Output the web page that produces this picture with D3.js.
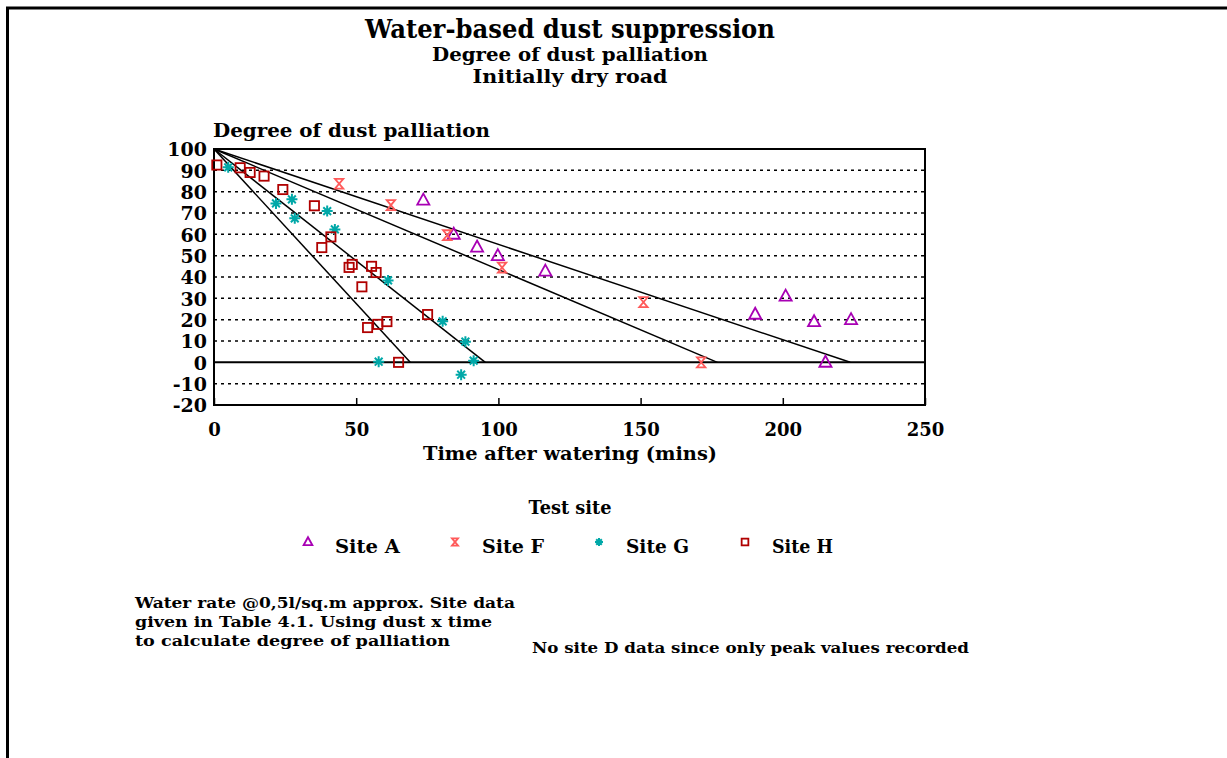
<!DOCTYPE html>
<html><head><meta charset="utf-8">
<script src="https://cdn.jsdelivr.net/npm/d3@7"></script>
<style>
html,body{margin:0;padding:0;background:#fff;}
svg{display:block;}
text{font-family:"DejaVu Serif",serif;font-weight:bold;fill:#000;}
</style></head>
<body>
<svg id="c" width="1227" height="758"></svg>
<script>
// ---- data ----
const siteA_x = [73.6, 84.3, 92.5, 99.8, 116.5, 190.3, 201, 211, 224, 215];
const siteA_y = [76, 60, 54, 50, 42.7, 22.5, 31, 19, 20, 0];
const siteF_x = [44, 62.2, 82, 101.3, 151, 171.3];
const siteF_y = [83.7, 73.7, 59.6, 44.4, 28.2, 0];
const siteG_x = [5, 21.8, 27.4, 28.4, 39.8, 42.5, 61.2, 57.9, 80.4, 88.4, 91.3, 86.9];
const siteG_y = [91.4, 74.5, 76.4, 67.5, 70.9, 62.3, 38.4, 0.3, 19.2, 9.7, 0.8, -5.8];
const siteH_x = [1, 9.2, 12.7, 17.6, 24.2, 35.3, 41.1, 37.9, 47.5, 48.6, 55.4, 57, 52, 60.8, 57.6, 54, 64.9, 75.1];
const siteH_y = [92.5, 91.2, 89, 87.3, 81, 73.4, 58.8, 53.8, 44.5, 45.9, 45, 42.1, 35.4, 19.1, 17.8, 16.3, 0, 22.4];
const trendEnds = [69, 95.4, 177, 223.7]; // x where each fitted line reaches 0 (all start at 0,100)
const xTicks = [0, 50, 100, 150, 200, 250];
const yTicks = [100, 90, 80, 70, 60, 50, 40, 30, 20, 10, 0, -10, -20];
const seriesNames = ["Site A", "Site F", "Site G", "Site H"];
const seriesColors = ["#a800b4", "#ff5a5a", "#00a8a8", "#b00000"];
const seriesShapes = ["triangle", "hourglass", "asterisk", "square"];

const svg = d3.select("#c");
// page border
svg.append("path").attr("d","M7.5,758 V8 H1227").attr("fill","none").attr("stroke","#000").attr("stroke-width",3);

const x = d3.scaleLinear().domain([0,250]).range([214,925]);
const y = d3.scaleLinear().domain([-20,100]).range([405,149]);

// gridlines
svg.append("g").selectAll("line").data(yTicks.filter(v=>v>-20 && v<100)).join("line")
  .attr("x1",x(0)).attr("x2",x(250)).attr("y1",d=>y(d)).attr("y2",d=>y(d))
  .attr("stroke","#000").attr("stroke-width",d=>d===0?2:1.5)
  .attr("stroke-dasharray",d=>d===0?null:"3,4");

// frame
svg.append("rect").attr("x",x(0)).attr("y",y(100)).attr("width",x(250)-x(0)).attr("height",y(-20)-y(100))
  .attr("fill","none").attr("stroke","#000").attr("stroke-width",2);

// axes
const yAxis = d3.axisLeft(y).tickValues(yTicks).tickSize(0).tickPadding(7).tickFormat(d=>d);
const gy = svg.append("g").attr("transform",`translate(${x(0)},0)`).call(yAxis);
gy.select(".domain").remove();
gy.selectAll("text").attr("font-size",19).attr("font-family","DejaVu Serif").attr("font-weight","bold").attr("dy","0.36em");

const xAxis = d3.axisBottom(x).tickValues(xTicks).tickSize(-7).tickPadding(18).tickFormat(d=>d);
const gx = svg.append("g").attr("transform",`translate(0,${y(-20)})`).call(xAxis);
gx.select(".domain").remove();
gx.selectAll("line").attr("stroke-width",1.5);
gx.selectAll("text").attr("font-size",18).attr("font-family","DejaVu Serif").attr("font-weight","bold");

// trend lines
svg.append("g").selectAll("line").data(trendEnds).join("line")
  .attr("x1",x(0)).attr("y1",y(100)).attr("x2",d=>x(d)).attr("y2",y(0))
  .attr("stroke","#000").attr("stroke-width",1.5);

// markers
function marker(g, shape, color, s){
  if(shape==="triangle"){
    g.append("path").attr("d",`M0,${-s*0.6} L${s*0.55},${s*0.4} L${-s*0.55},${s*0.4} Z`)
      .attr("fill","none").attr("stroke",color).attr("stroke-width",1.8);
  } else if(shape==="square"){
    g.append("rect").attr("x",-s*0.42).attr("y",-s*0.42).attr("width",s*0.84).attr("height",s*0.84)
      .attr("fill","none").attr("stroke",color).attr("stroke-width",1.8);
  } else if(shape==="hourglass"){
    g.append("path").attr("d",`M${-s*0.38},${-s*0.45} H${s*0.38} L${-s*0.38},${s*0.45} H${s*0.38} Z`)
      .attr("fill","none").attr("stroke",color).attr("stroke-width",1.8);
  } else {
    const r = s*0.5;
    let d="";
    for(let i=0;i<4;i++){const a=i*Math.PI/4; d+=`M${-r*Math.cos(a)},${-r*Math.sin(a)}L${r*Math.cos(a)},${r*Math.sin(a)}`;}
    g.append("path").attr("d",d).attr("stroke",color).attr("stroke-width",2);
  }
}
const allX=[siteA_x,siteF_x,siteG_x,siteH_x], allY=[siteA_y,siteF_y,siteG_y,siteH_y];
allX.forEach((xs,si)=>{
  xs.forEach((xv,i)=>{
    const g = svg.append("g").attr("transform",`translate(${x(xv)},${y(allY[si][i])})`);
    marker(g, seriesShapes[si], seriesColors[si], 11);
  });
});

// titles
function txt(t, xp, yp, size, anchor, weight, len){
  const e = svg.append("text").attr("x",xp).attr("y",yp).attr("font-size",size)
    .attr("text-anchor",anchor||"start").attr("font-weight",weight||"bold").text(t);
  if(len) e.attr("textLength",len).attr("lengthAdjust","spacingAndGlyphs");
  return e;
}
txt("Water-based dust suppression", 570, 38, 26, "middle", "normal", 410);
txt("Degree of dust palliation", 570, 61, 18, "middle", "bold", 276);
txt("Initially dry road", 570, 83, 18, "middle", "bold", 195);
txt("Degree of dust palliation", 213, 137, 18, "start", "bold", 277);
txt("Time after watering (mins)", 570, 460, 18, "middle", "bold", 294);

// legend
txt("Test site", 570, 514, 18, "middle", "bold", 83);
const legX = [308, 455, 599, 745];
const legTxtLen = [65, 62, 63, 61];
seriesNames.forEach((n,i)=>{
  const g = svg.append("g").attr("transform",`translate(${legX[i]},${542})`);
  marker(g, seriesShapes[i], seriesColors[i], 8);
  txt(n, legX[i]+27, 553, 18, "start", "bold", legTxtLen[i]);
});

// notes
txt("Water rate @0,5l/sq.m approx.  Site data", 135, 608, 15, "start", "bold", 380);
txt("given in Table 4.1.  Using dust x time", 135, 627, 15, "start", "bold", 357);
txt("to calculate degree of palliation", 135, 646, 15, "start", "bold", 315);
txt("No site D data since only peak values recorded", 532, 653, 15, "start", "bold", 437);
</script>
</body></html>
